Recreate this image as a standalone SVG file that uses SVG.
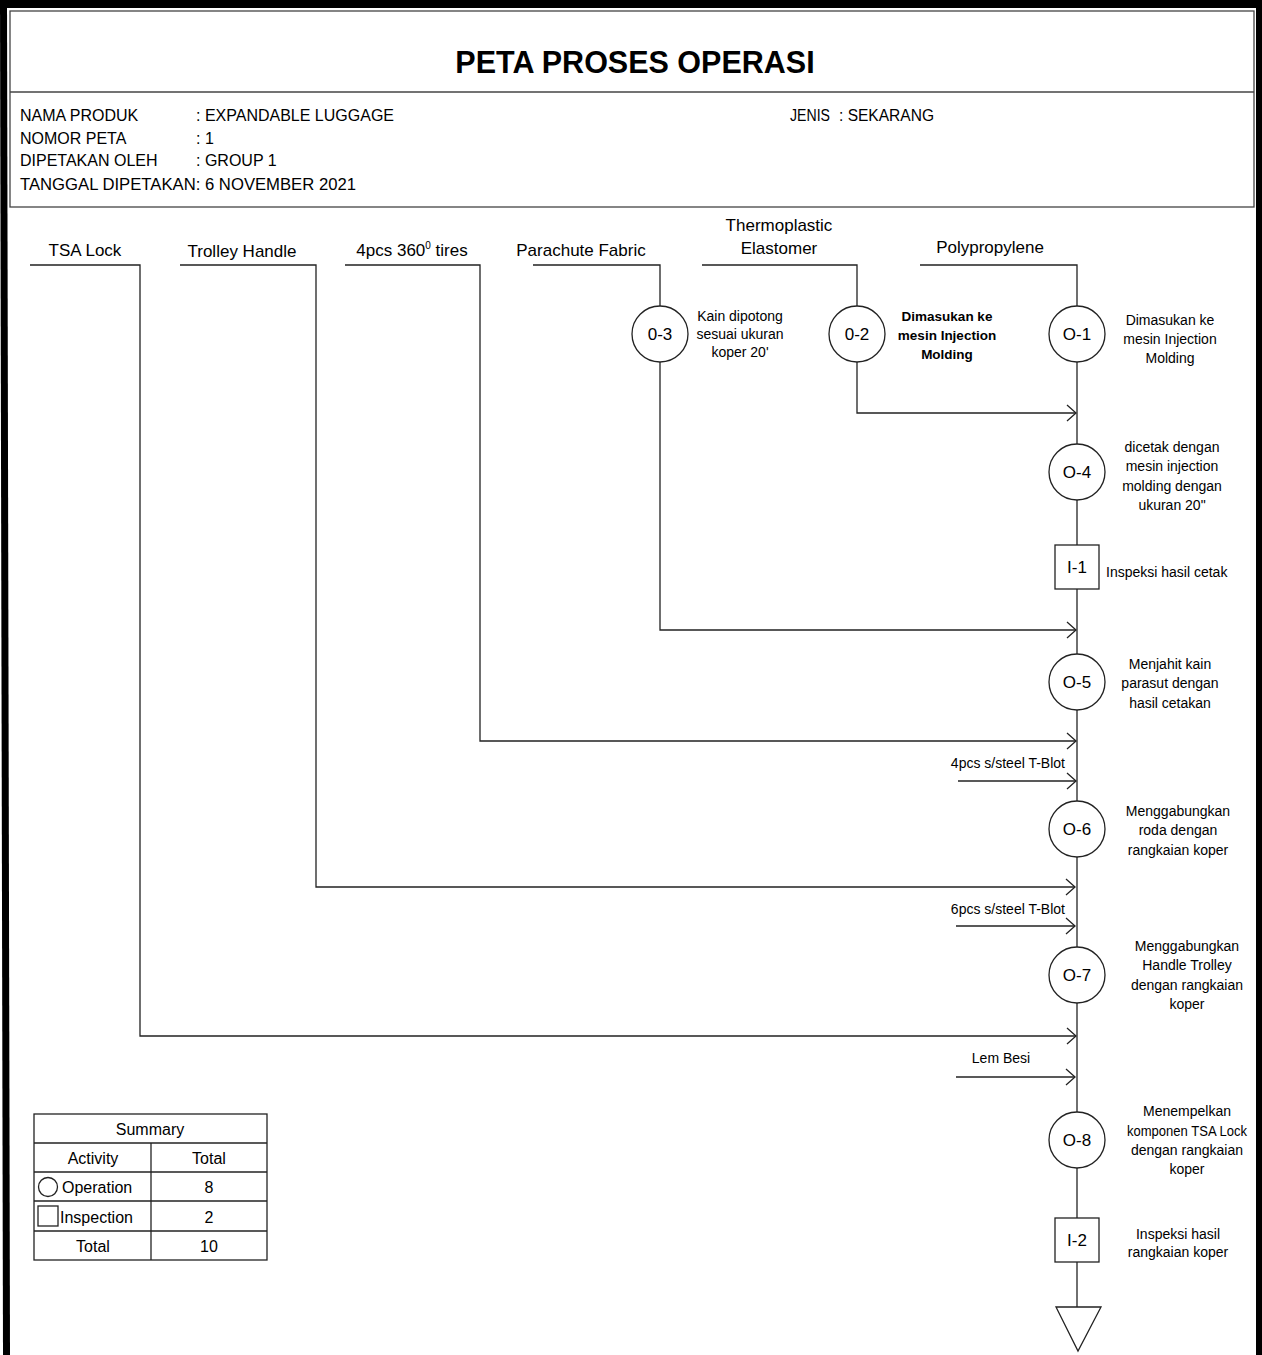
<svg xmlns="http://www.w3.org/2000/svg" width="1262" height="1355" viewBox="0 0 1262 1355">
<style>
text{font-family:"Liberation Sans",Arial,sans-serif;fill:#000}
.hd{font-size:16px}
.tt{font-size:30.5px;font-weight:bold}
.top{font-size:17px}
.nd{font-size:17px}
.lb{font-size:14px}
.lbb{font-size:13.5px;font-weight:bold}
.tb{font-size:16px}
.ln{fill:none;stroke:#222;stroke-width:1.3}
.sh{fill:#fff;stroke:#222;stroke-width:1.3}
.frame{fill:none;stroke:#444;stroke-width:1.3}
</style>
<defs>
<marker id="arr" viewBox="-11 -10 13 20" markerWidth="13" markerHeight="20" refX="0" refY="0" orient="auto" markerUnits="userSpaceOnUse">
<path d="M-9,-8 L0,0 L-9,8" fill="none" stroke="#222" stroke-width="1.3"/>
</marker>
</defs>
<rect x="0" y="0" width="1262" height="1355" fill="#fff"/>
<!-- outer thick frame -->
<polygon points="0,0 1262,0 1262,8 0,8" fill="#000"/>
<polygon points="0,0 7,0 10,1355 3,1355" fill="#000"/>
<rect x="1256" y="0" width="6" height="1355" fill="#000"/>
<!-- header box -->
<g id="header">
<rect class="frame" x="10" y="11" width="1244" height="196"/>
<line class="frame" x1="10" y1="92" x2="1254" y2="92"/>
<text class="tt" x="635" y="73" text-anchor="middle">PETA PROSES OPERASI</text>
<text class="hd" x="20" y="121">NAMA PRODUK</text>
<text class="hd" x="196" y="121">: EXPANDABLE LUGGAGE</text>
<text class="hd" x="20" y="144">NOMOR PETA</text>
<text class="hd" x="196" y="144">: 1</text>
<text class="hd" x="20" y="166">DIPETAKAN OLEH</text>
<text class="hd" x="196" y="166">: GROUP 1</text>
<text class="hd" x="20" y="190" textLength="336" lengthAdjust="spacingAndGlyphs">TANGGAL DIPETAKAN: 6 NOVEMBER 2021</text>
<text class="hd" x="790" y="121" textLength="40" lengthAdjust="spacingAndGlyphs">JENIS</text>
<text class="hd" x="839" y="121" textLength="95" lengthAdjust="spacingAndGlyphs">: SEKARANG</text>
</g>
<!-- raw material labels -->
<g id="materials">
<text class="top" x="85" y="256" text-anchor="middle">TSA Lock</text>
<text class="top" x="242" y="257" text-anchor="middle">Trolley Handle</text>
<text class="top" x="412" y="256" text-anchor="middle">4pcs 360<tspan font-size="10" dy="-7">0</tspan><tspan dy="7"> tires</tspan></text>
<text class="top" x="581" y="256" text-anchor="middle">Parachute Fabric</text>
<text class="top" x="779" y="231" text-anchor="middle">Thermoplastic</text>
<text class="top" x="779" y="254" text-anchor="middle">Elastomer</text>
<text class="top" x="990" y="253" text-anchor="middle">Polypropylene</text>
</g>
<!-- connectors -->
<g id="connectors">
<path class="ln" d="M30,265 H140 V1036 H1076" marker-end="url(#arr)"/>
<path class="ln" d="M180,265 H316 V887 H1075" marker-end="url(#arr)"/>
<path class="ln" d="M345,265 H480 V741 H1076" marker-end="url(#arr)"/>
<path class="ln" d="M533,265 H660 V306"/>
<path class="ln" d="M660,362 V630 H1076" marker-end="url(#arr)"/>
<path class="ln" d="M702,265 H857 V306"/>
<path class="ln" d="M857,362 V413 H1076" marker-end="url(#arr)"/>
<path class="ln" d="M920,265 H1077 V306"/>
<path class="ln" d="M1077,362 V1112"/>
<path class="ln" d="M1077,1168 V1307"/>
<path class="ln" d="M958,781 H1076" marker-end="url(#arr)"/>
<path class="ln" d="M956,926 H1075" marker-end="url(#arr)"/>
<path class="ln" d="M956,1077 H1075" marker-end="url(#arr)"/>
<text class="lb" x="1065" y="768" text-anchor="end">4pcs s/steel T-Blot</text>
<text class="lb" x="1065" y="914" text-anchor="end">6pcs s/steel T-Blot</text>
<text class="lb" x="1001" y="1063" text-anchor="middle">Lem Besi</text>
</g>
<!-- nodes -->
<g id="O-3">
<circle class="sh" cx="660" cy="334" r="28"/>
<text class="nd" x="660" y="340" text-anchor="middle">0-3</text>
<text class="lb" text-anchor="middle"><tspan x="740" y="321">Kain dipotong</tspan><tspan x="740" y="339">sesuai ukuran</tspan><tspan x="740" y="357">koper 20'</tspan></text>
</g>
<g id="O-2">
<circle class="sh" cx="857" cy="334" r="28"/>
<text class="nd" x="857" y="340" text-anchor="middle">0-2</text>
<text class="lbb" text-anchor="middle"><tspan x="947" y="321">Dimasukan ke</tspan><tspan x="947" y="340">mesin Injection</tspan><tspan x="947" y="359">Molding</tspan></text>
</g>
<g id="O-1">
<circle class="sh" cx="1077" cy="334" r="28"/>
<text class="nd" x="1077" y="340" text-anchor="middle">O-1</text>
<text class="lb" text-anchor="middle"><tspan x="1170" y="325">Dimasukan ke</tspan><tspan x="1170" y="344">mesin Injection</tspan><tspan x="1170" y="363">Molding</tspan></text>
</g>
<g id="O-4">
<circle class="sh" cx="1077" cy="472" r="28"/>
<text class="nd" x="1077" y="478" text-anchor="middle">O-4</text>
<text class="lb" text-anchor="middle"><tspan x="1172" y="452">dicetak dengan</tspan><tspan x="1172" y="471">mesin injection</tspan><tspan x="1172" y="491">molding dengan</tspan><tspan x="1172" y="510">ukuran 20"</tspan></text>
</g>
<g id="I-1">
<rect class="sh" x="1055" y="545" width="44" height="44"/>
<text class="nd" x="1077" y="573" text-anchor="middle">I-1</text>
<text class="lb" x="1106" y="577">Inspeksi hasil cetak</text>
</g>
<g id="O-5">
<circle class="sh" cx="1077" cy="682" r="28"/>
<text class="nd" x="1077" y="688" text-anchor="middle">O-5</text>
<text class="lb" text-anchor="middle"><tspan x="1170" y="669">Menjahit kain</tspan><tspan x="1170" y="688">parasut dengan</tspan><tspan x="1170" y="708">hasil cetakan</tspan></text>
</g>
<g id="O-6">
<circle class="sh" cx="1077" cy="829" r="28"/>
<text class="nd" x="1077" y="835" text-anchor="middle">O-6</text>
<text class="lb" text-anchor="middle"><tspan x="1178" y="816">Menggabungkan</tspan><tspan x="1178" y="835">roda dengan</tspan><tspan x="1178" y="855">rangkaian koper</tspan></text>
</g>
<g id="O-7">
<circle class="sh" cx="1077" cy="975" r="28"/>
<text class="nd" x="1077" y="981" text-anchor="middle">O-7</text>
<text class="lb" text-anchor="middle"><tspan x="1187" y="951">Menggabungkan</tspan><tspan x="1187" y="970">Handle Trolley</tspan><tspan x="1187" y="990">dengan rangkaian</tspan><tspan x="1187" y="1009">koper</tspan></text>
</g>
<g id="O-8">
<circle class="sh" cx="1077" cy="1140" r="28"/>
<text class="nd" x="1077" y="1146" text-anchor="middle">O-8</text>
<text class="lb" text-anchor="middle"><tspan x="1187" y="1116">Menempelkan</tspan><tspan x="1187" y="1136" textLength="120" lengthAdjust="spacingAndGlyphs">komponen TSA Lock</tspan><tspan x="1187" y="1155">dengan rangkaian</tspan><tspan x="1187" y="1174">koper</tspan></text>
</g>
<g id="I-2">
<rect class="sh" x="1055" y="1218" width="44" height="44"/>
<text class="nd" x="1077" y="1246" text-anchor="middle">I-2</text>
<text class="lb" text-anchor="middle"><tspan x="1178" y="1239">Inspeksi hasil</tspan><tspan x="1178" y="1257">rangkaian koper</tspan></text>
</g>
<g id="storage">
<polygon class="sh" points="1056,1307 1101,1307 1078,1351"/>
</g>
<!-- summary table -->
<g id="summary">
<rect class="ln" x="34" y="1114" width="233" height="146"/>
<line class="ln" x1="34" y1="1143" x2="267" y2="1143"/>
<line class="ln" x1="34" y1="1172" x2="267" y2="1172"/>
<line class="ln" x1="34" y1="1201" x2="267" y2="1201"/>
<line class="ln" x1="34" y1="1231" x2="267" y2="1231"/>
<line class="ln" x1="151" y1="1143" x2="151" y2="1260"/>
<text class="tb" x="150" y="1135" text-anchor="middle">Summary</text>
<text class="tb" x="93" y="1164" text-anchor="middle">Activity</text>
<text class="tb" x="209" y="1164" text-anchor="middle">Total</text>
<circle class="ln" cx="48" cy="1187" r="9.5"/>
<text class="tb" x="62" y="1193">Operation</text>
<text class="tb" x="209" y="1193" text-anchor="middle">8</text>
<rect class="ln" x="38" y="1206" width="20" height="20"/>
<text class="tb" x="60" y="1223">Inspection</text>
<text class="tb" x="209" y="1223" text-anchor="middle">2</text>
<text class="tb" x="93" y="1252" text-anchor="middle">Total</text>
<text class="tb" x="209" y="1252" text-anchor="middle">10</text>
</g>
</svg>
